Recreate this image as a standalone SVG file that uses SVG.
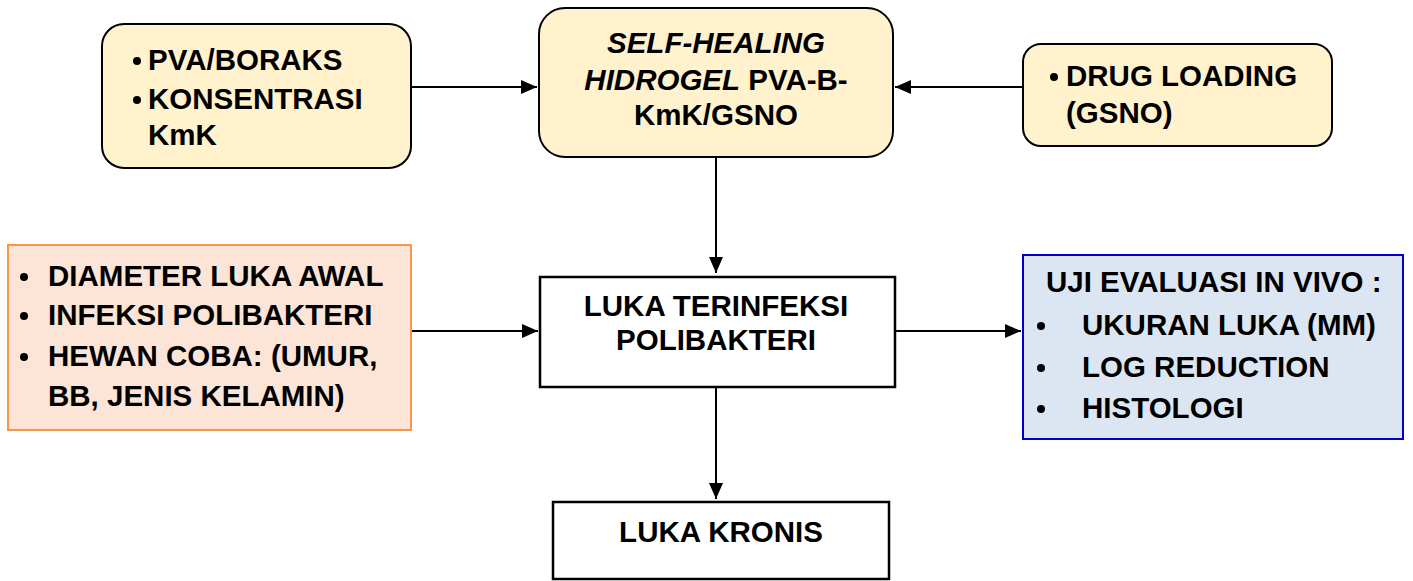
<svg xmlns="http://www.w3.org/2000/svg" width="1413" height="581" viewBox="0 0 1413 581">
<defs>
<style>
text{font-family:"Liberation Sans",Arial,sans-serif;font-weight:bold;font-size:29.5px;fill:#000}
.c{text-anchor:middle}
.y{fill:#FFF2CC;stroke:#000;stroke-width:2}
.w{fill:#fff;stroke:#000;stroke-width:2.5}
.conn{stroke:#000;stroke-width:2;fill:none}
</style>
<marker id="ah" viewBox="0 0 10 10" refX="10" refY="5" markerWidth="16" markerHeight="14" markerUnits="userSpaceOnUse" orient="auto" preserveAspectRatio="none">
<path d="M0,0 L10,5 L0,10 Z" fill="#000"/>
</marker>
</defs>
<rect width="1413" height="581" fill="#fff"/>
<g id="connectors">
<line class="conn" x1="411" y1="87" x2="537" y2="87" marker-end="url(#ah)"/>
<line class="conn" x1="1023" y1="87" x2="895" y2="87" marker-end="url(#ah)"/>
<line class="conn" x1="716" y1="157" x2="716" y2="273" marker-end="url(#ah)"/>
<line class="conn" x1="411" y1="331" x2="538" y2="331" marker-end="url(#ah)"/>
<line class="conn" x1="896" y1="331" x2="1021" y2="331" marker-end="url(#ah)"/>
<line class="conn" x1="716" y1="388" x2="716" y2="499" marker-end="url(#ah)"/>
</g>
<g id="node-pva">
<rect class="y" x="102" y="24" width="309" height="144" rx="22"/>
<circle cx="137" cy="61" r="4"/>
<circle cx="137" cy="100" r="4"/>
<text x="148" y="70">PVA/BORAKS</text>
<text x="148" y="109">KONSENTRASI</text>
<text x="148" y="145">KmK</text>
</g>
<g id="node-hidrogel">
<rect class="y" x="539" y="8" width="354" height="149" rx="26"/>
<text class="c" x="716" y="53" font-style="italic">SELF-HEALING</text>
<text class="c" x="716" y="90"><tspan font-style="italic">HIDROGEL</tspan> PVA-B-</text>
<text class="c" x="716" y="125">KmK/GSNO</text>
</g>
<g id="node-drug">
<rect class="y" x="1023" y="44" width="309" height="102" rx="18"/>
<circle cx="1054" cy="77" r="4"/>
<text x="1066" y="86">DRUG LOADING</text>
<text x="1066" y="123">(GSNO)</text>
</g>
<g id="node-faktor">
<rect x="8" y="245" width="403" height="185" fill="#FCE4D6" stroke="#F79646" stroke-width="2"/>
<circle cx="24" cy="277" r="4"/>
<circle cx="24" cy="316" r="4"/>
<circle cx="24" cy="357" r="4"/>
<text x="48" y="286">DIAMETER LUKA AWAL</text>
<text x="48" y="325">INFEKSI POLIBAKTERI</text>
<text x="48" y="366">HEWAN COBA: (UMUR,</text>
<text x="48" y="406">BB, JENIS KELAMIN)</text>
</g>
<g id="node-luka">
<rect class="w" x="540" y="277" width="355" height="110"/>
<text class="c" x="716" y="316">LUKA TERINFEKSI</text>
<text class="c" x="716" y="350">POLIBAKTERI</text>
</g>
<g id="node-kronis">
<rect class="w" x="553" y="502" width="336" height="77"/>
<text class="c" x="721" y="542">LUKA KRONIS</text>
</g>
<g id="node-uji">
<rect x="1023" y="255" width="380" height="184" fill="#DCE6F2" stroke="#0000CC" stroke-width="2"/>
<text x="1046" y="292">UJI EVALUASI IN VIVO :</text>
<circle cx="1041" cy="326" r="4"/>
<circle cx="1041" cy="368" r="4"/>
<circle cx="1041" cy="409" r="4"/>
<text x="1082" y="335">UKURAN LUKA (MM)</text>
<text x="1082" y="377">LOG REDUCTION</text>
<text x="1082" y="418">HISTOLOGI</text>
</g>
</svg>
